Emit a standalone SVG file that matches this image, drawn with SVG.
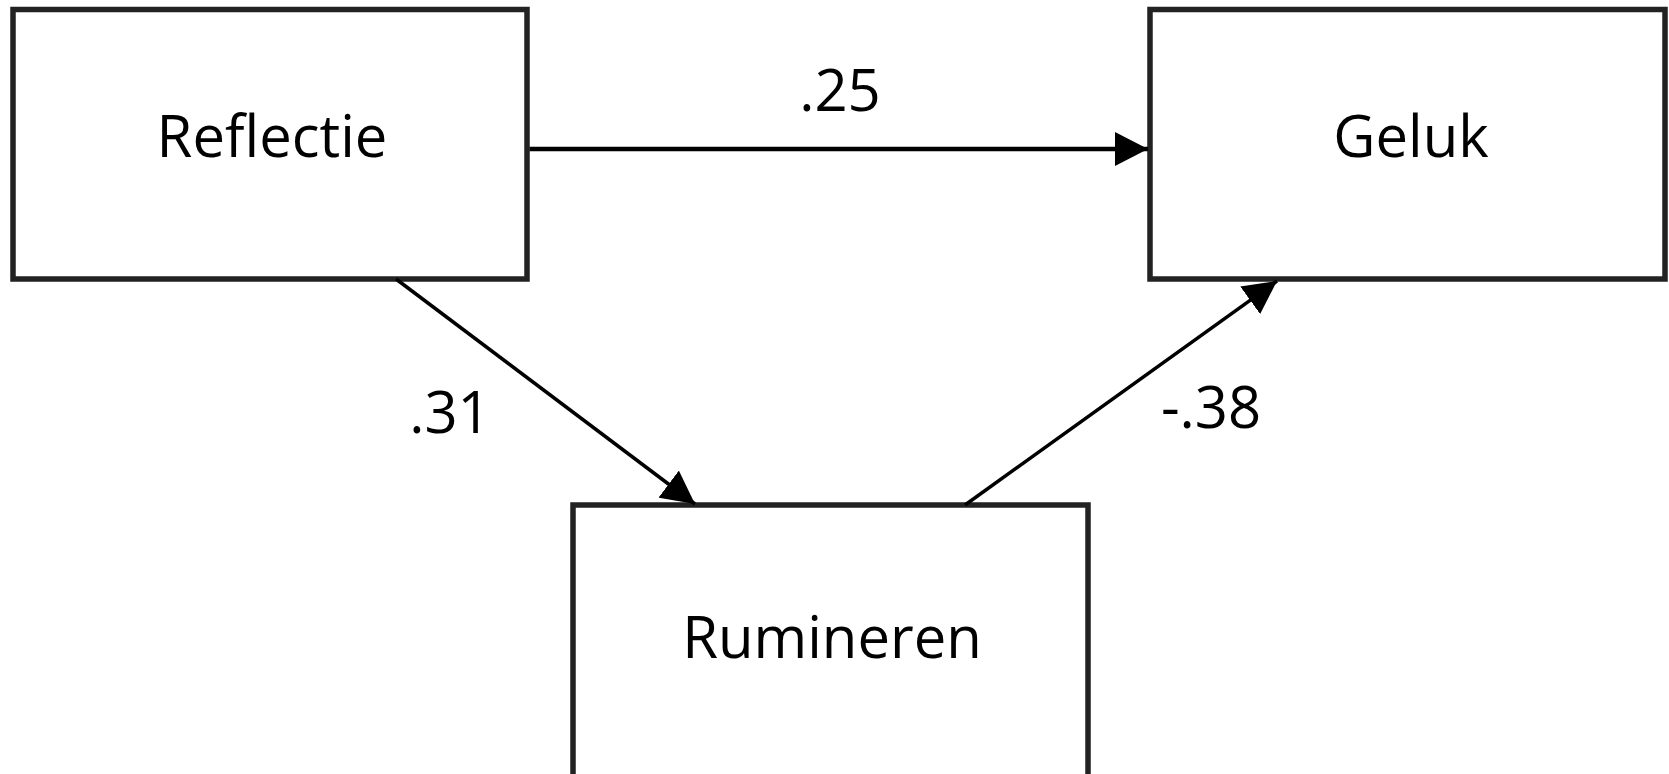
<svg xmlns="http://www.w3.org/2000/svg" width="1669" height="774" viewBox="0 0 1669 774">
  <defs>
    <style>
      .box { fill: #ffffff; stroke: #222222; stroke-width: 5.5; }
      .lbl { font-family: "Open Sans", "Noto Sans", "DejaVu Sans", sans-serif; font-size: 58px; fill: #000000; text-anchor: middle; }
      .edge { stroke: #000000; fill: none; }
    </style>
    <marker id="arrow" markerUnits="userSpaceOnUse" markerWidth="34" markerHeight="34" refX="33" refY="17" orient="auto">
      <path d="M0,0 L33,17 L0,34 z" fill="#000000"/>
    </marker>
  </defs>
  <rect width="1669" height="774" fill="#ffffff"/>

  <g id="node-reflectie">
    <rect class="box" x="13" y="9.5" width="514" height="269.5"/>
    <text class="lbl" x="272" y="157">Reflectie</text>
  </g>
  <g id="node-geluk">
    <rect class="box" x="1150" y="9.5" width="515" height="269.5"/>
    <text class="lbl" x="1411" y="157">Geluk</text>
  </g>
  <g id="node-rumineren">
    <rect class="box" x="573" y="505" width="515" height="290"/>
    <text class="lbl" x="832" y="658">Rumineren</text>
  </g>

  <g id="connectors">
    <line class="edge" x1="529.5" y1="149" x2="1148" y2="149" stroke-width="4.5" marker-end="url(#arrow)"/>
    <line class="edge" x1="396" y1="279" x2="695" y2="504" stroke-width="3.5" marker-end="url(#arrow)"/>
    <line class="edge" x1="965" y1="505" x2="1277" y2="281" stroke-width="3.5" marker-end="url(#arrow)"/>
  </g>

  <g id="edge-labels">
    <text class="lbl" x="840" y="111">.25</text>
    <text class="lbl" x="450" y="433">.31</text>
    <text class="lbl" x="1211" y="428">-.38</text>
  </g>
</svg>
